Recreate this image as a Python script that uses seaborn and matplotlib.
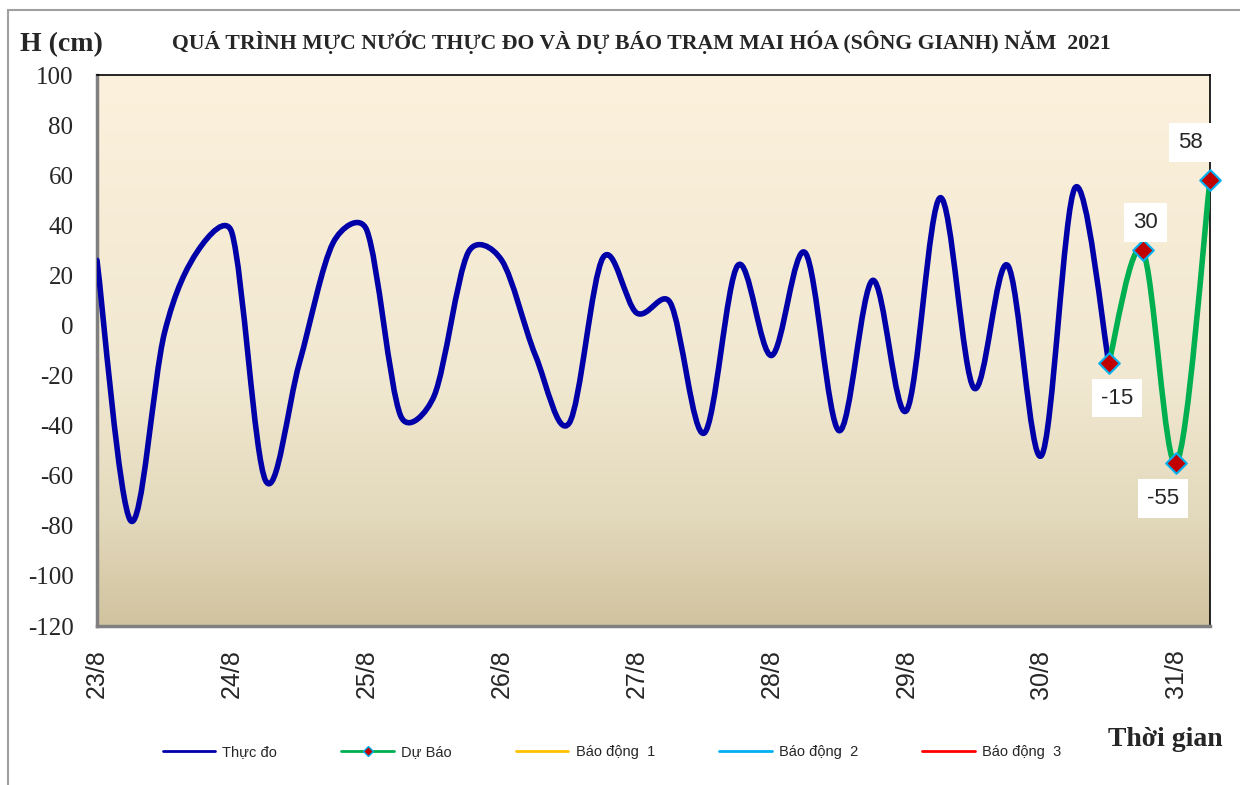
import numpy as np
import pandas as pd
import seaborn as sns
import matplotlib
matplotlib.use('Agg')
import matplotlib.pyplot as plt
from matplotlib.path import Path
from matplotlib.patches import PathPatch, Rectangle
from matplotlib.lines import Line2D
from matplotlib.colors import LinearSegmentedColormap

# data: water level every 6 hours, starting 23/8 00h
day_labels = ['23/8', '24/8', '25/8', '26/8', '27/8', '28/8', '29/8', '30/8', '31/8']
observed = [26, -78, -3, 30, 37, -62, -15, 33, 38, -36, -28, 29, 26, -12, -39,
            27, 5, 9, -43, 24, -12, 29, -42, 18, -34, 51, -25, 24, -52, 55, -15]
forecast = [-15, 30, -55, 58]
steps_per_day = 4

obs_x = np.arange(len(observed))
fc_x = np.arange(len(observed) - 1, len(observed) - 1 + len(forecast))
n_total = fc_x[-1]

df_fc = pd.DataFrame({'t': fc_x, 'h': forecast})

sns.set_style('white')
plt.rcParams['font.family'] = ['Liberation Sans', 'DejaVu Sans']
plt.rcParams['axes.unicode_minus'] = False

serif = ['Liberation Serif', 'DejaVu Serif']


def smooth_path(ax, x, y):
    # excel style smoothed line, bezier handles capped at half the segment
    pts = ax.transData.transform(np.column_stack([x, y]).astype(float))
    n = len(pts)
    verts = [pts[0]]
    codes = [Path.MOVETO]
    for i in range(n - 1):
        p0 = pts[max(i - 1, 0)]
        p1 = pts[i]
        p2 = pts[i + 1]
        p3 = pts[min(i + 2, n - 1)]
        d12 = np.hypot(*(p2 - p1))
        d02 = np.hypot(*(p2 - p0))
        d13 = np.hypot(*(p3 - p1))
        f1 = min(1 / 6, d12 / 2 / d02) if d02 > 0 else 0
        f2 = min(1 / 6, d12 / 2 / d13) if d13 > 0 else 0
        verts += [p1 + (p2 - p0) * f1, p2 - (p3 - p1) * f2, p2]
        codes += [Path.CURVE4] * 3
    verts = ax.transData.inverted().transform(np.array(verts))
    return Path(verts, codes)


fig = plt.figure(figsize=(12.4, 7.85), dpi=100)
ax = fig.add_axes([97 / 1240, 1 - 626 / 785, (1210 - 97) / 1240, (626 - 75) / 785])
ax.set_xlim(0, n_total)
ax.set_ylim(-120, 100)

# background gradient
cmap = LinearSegmentedColormap.from_list(
    'bg', [(0, '#FCF1DC'), (0.55, '#F1E8D1'), (0.8, '#E3D9BC'), (1, '#D1C39F')])
grad = np.linspace(0, 1, 256).reshape(-1, 1)
ax.imshow(grad, extent=[0, n_total, -120, 100], aspect='auto', cmap=cmap,
          origin='upper', zorder=0)
ax.set_xlim(0, n_total)
ax.set_ylim(-120, 100)

ax.add_patch(PathPatch(smooth_path(ax, obs_x, observed), facecolor='none',
                       edgecolor='#0000A8', lw=4, capstyle='round',
                       joinstyle='round', zorder=3))
ax.add_patch(PathPatch(smooth_path(ax, fc_x, forecast), facecolor='none',
                       edgecolor='#00B050', lw=4, capstyle='round',
                       joinstyle='round', zorder=3))

sns.scatterplot(data=df_fc, x='t', y='h', marker='D', s=110, color='#C00000',
                edgecolor='#00B0F0', linewidth=1.5, zorder=5, ax=ax,
                legend=False, clip_on=False)

offsets = [(8, -35), (3, 28), (-13, -35), (-20, 38)]
for t, h, off in zip(fc_x, forecast, offsets):
    ax.annotate(f'{h}', (t, h), xytext=off, textcoords='offset pixels',
                ha='center', va='center', fontsize=16, zorder=6,
                bbox=dict(boxstyle='square,pad=0.4', fc='white', ec='none'))

ax.set_yticks(np.arange(-120, 101, 20))
ax.set_xticks(np.arange(0, n_total + 1))
ax.set_xticklabels([day_labels[i // steps_per_day] if i % steps_per_day == 0 else ''
                    for i in range(n_total + 1)], rotation=90)
ax.set_xlabel('')
ax.set_ylabel('')
ax.tick_params(axis='y', direction='out', length=9, width=1.5, color='#808080',
               labelsize=18, pad=8)
ax.tick_params(axis='x', direction='in', length=6, width=1.5, color='#808080',
               labelsize=18, pad=17)
for lab in ax.get_yticklabels():
    lab.set_family(serif)

for s in ['left', 'bottom']:
    ax.spines[s].set_color('#808080')
    ax.spines[s].set_linewidth(2.5)
for s in ['top', 'right']:
    ax.spines[s].set_color('black')
    ax.spines[s].set_linewidth(1.2)

fig.text(641 / 1240, 1 - 42 / 785,
         'QUÁ TRÌNH MỰC NƯỚC THỰC ĐO VÀ DỰ BÁO TRẠM MAI HÓA (SÔNG GIANH) NĂM  2021',
         ha='center', va='center', fontsize=15.7, fontweight='bold', family=serif)
fig.text(20 / 1240, 1 - 45 / 785, 'H (cm)', ha='left', va='center',
         fontsize=20, fontweight='bold', family=serif)
fig.text(1108 / 1240, 1 - 740 / 785, 'Thời gian', ha='left', va='center',
         fontsize=20, fontweight='bold', family=serif)

handles = [
    Line2D([], [], color='#0000A8', lw=2),
    Line2D([], [], color='#00B050', lw=2, marker='D', markersize=5,
           markerfacecolor='#C00000', markeredgecolor='#00B0F0'),
    Line2D([], [], color='#FFC000', lw=2),
    Line2D([], [], color='#00B0F0', lw=2),
    Line2D([], [], color='#FF0000', lw=2),
]
labels = ['Thực đo', 'Dự Báo', 'Báo động  1', 'Báo động  2', 'Báo động  3']
fig.legend(handles, labels, loc='center', bbox_to_anchor=(612 / 1240, 1 - 752 / 785),
           ncol=5, frameon=False, fontsize=10.5, handlelength=3.6,
           handletextpad=0.5, columnspacing=4.4)

fig.add_artist(Rectangle((8 / 1240, -0.1), 1.2, 1 - 10 / 785 + 0.1,
                         transform=fig.transFigure, fill=False,
                         edgecolor='#A0A0A0', lw=1.5))

fig.savefig('out.png', dpi=100)
